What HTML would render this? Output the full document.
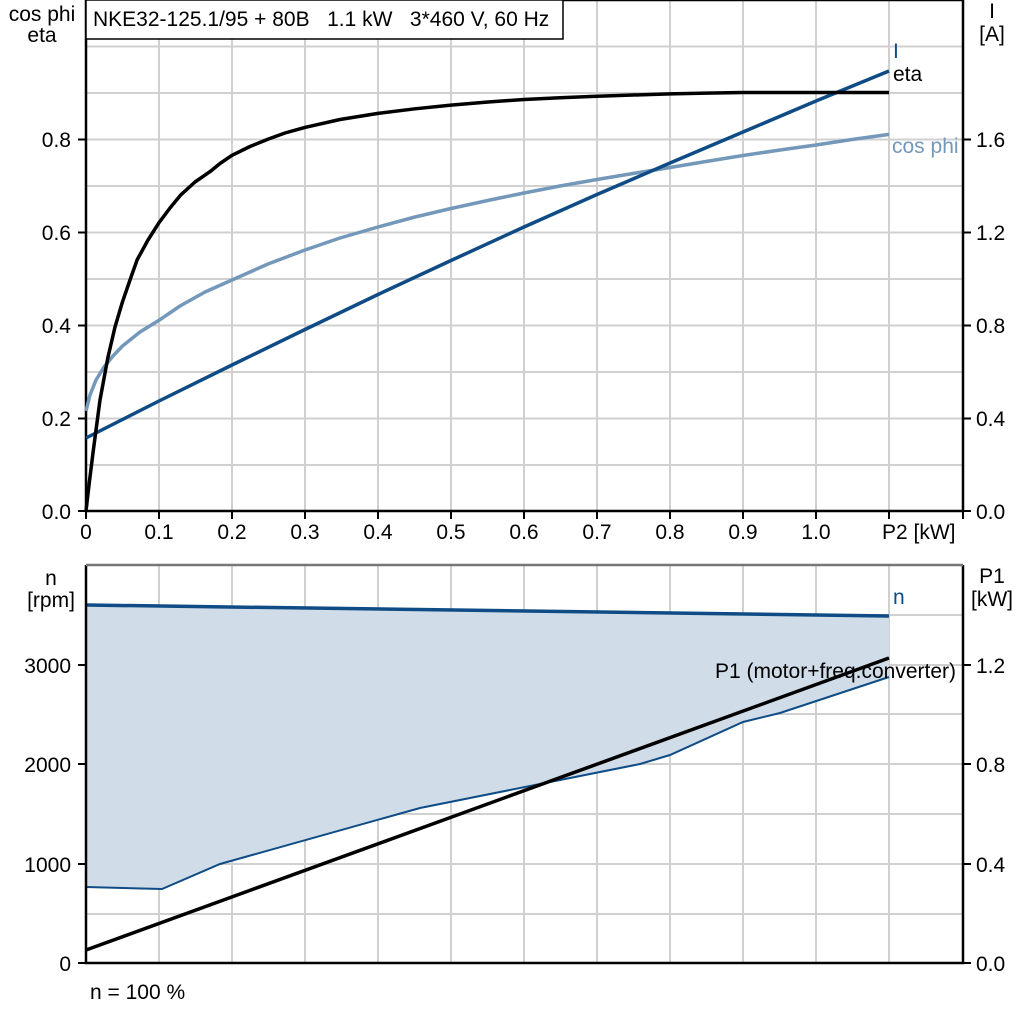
<!DOCTYPE html>
<html><head><meta charset="utf-8"><style>
body{margin:0;background:#fff}
svg{display:block;font-family:"Liberation Sans",sans-serif}
text{white-space:pre}
</style></head><body>
<svg width="1024" height="1024" viewBox="0 0 1024 1024">
<g stroke="#d0d0d0" stroke-width="2">
<path d="M159 0V511M232 0V511M305 0V511M378 0V511M451 0V511M524 0V511M597 0V511M670 0V511M743 0V511M816 0V511M889 0V511"/>
<path d="M86 46.5H963M86 93H963M86 139.5H963M86 186H963M86 232.5H963M86 279H963M86 325.5H963M86 372H963M86 418.5H963M86 465H963"/>
</g>
<g stroke="#d0d0d0" stroke-width="2">
<path d="M159 565V963M232 565V963M305 565V963M378 565V963M451 565V963M524 565V963M597 565V963M670 565V963M743 565V963M816 565V963M889 565V963"/>
<path d="M86 615H963M86 665H963M86 714H963M86 764H963M86 814H963M86 864H963M86 914H963"/>
</g>
<path d="M86 605L889 616L889 677L780 713L743 722L670 755L640 764L560 780L420 808L220 864L162 889L86 887Z" fill="#d0dce7"/>
<path d="M86 887L162 889L220 864L420 808L560 780L640 764L670 755L743 722L780 713L889 677" fill="none" stroke="#0f4c85" stroke-width="2"/>
<path d="M86 605L889 616" stroke="#0f4c85" stroke-width="3.5"/>
<path d="M86 950L889 658" stroke="#000" stroke-width="3.5"/>
<g stroke="#000" stroke-width="2.5" fill="none">
<path d="M86 0V511H963V0M86 0H963"/>
<path d="M86 565V963H963V565"/>
</g>
<path d="M86 565H963" stroke="#777" stroke-width="2.5"/>
<g stroke="#000" stroke-width="2">
<path d="M78 511H86M78 418.5H86M78 325.5H86M78 232.5H86M78 139.5H86"/>
<path d="M963 511H971M963 418.5H971M963 325.5H971M963 232.5H971M963 139.5H971"/>
<path d="M86 511V519M159 511V519M232 511V519M305 511V519M378 511V519M451 511V519M524 511V519M597 511V519M670 511V519M743 511V519M816 511V519M889 511V519M963 511V519"/>
<path d="M78 963H86M78 864H86M78 764H86M78 665H86"/>
<path d="M963 963H971M963 864H971M963 764H971M963 665H971"/>
</g>
<path d="M86 411L90 395L96 380L104 367L113 356L122.5 346L140 332L159 320.3L180 306L205 292L232 280L268 264L305 250L340 238L378 227L415 217L451 208.5L490 200L524 193L560 186L597 179.5L633 173.5L670 167.5L706 161.5L743 155.5L780 150L816 145L852 139.5L889 134.4" fill="none" stroke="#7498b9" stroke-width="3.5" stroke-linejoin="round"/>
<path d="M86 438L159 401L232 365L305 329.5L378 294.5L451 260.5L524 227L597 194.5L670 163L743 132L816 101L889 71" fill="none" stroke="#0f4c85" stroke-width="3.5" stroke-linejoin="round"/>
<path d="M86 511L89 485L93.3 450.5L100 400L107.9 357.5L115 327L122.5 301.8L130 280L137.1 259.9L148 240L159 222.7L170 208L180.9 194.8L195 182L210.1 171.6L220 163.5L232 155.3L250 146.5L268.5 139L285 133L305 127.4L340 119.5L378 113.4L415 108.8L451 105.1L488 102L524 99.5L560 97.7L597 96.2L633 95L670 93.9L706 93.1L743 92.5L889 92.5" fill="none" stroke="#000" stroke-width="3.5" stroke-linejoin="round"/>
<rect x="86" y="0" width="477" height="39" fill="#fff" stroke="#000" stroke-width="1.5"/>
<text x="93" y="26" font-size="21">NKE32-125.1/95 + 80B   1.1 kW   3*460 V, 60 Hz</text>
<g font-size="21" text-anchor="end">
<text x="71" y="519">0.0</text><text x="71" y="426">0.2</text><text x="71" y="333">0.4</text><text x="71" y="240">0.6</text><text x="71" y="147">0.8</text>
<text x="71" y="971">0</text><text x="71" y="872">1000</text><text x="71" y="772">2000</text><text x="71" y="673">3000</text>
</g>
<g font-size="21">
<text x="976" y="519">0.0</text><text x="976" y="426">0.4</text><text x="976" y="333">0.8</text><text x="976" y="240">1.2</text><text x="976" y="147">1.6</text>
<text x="976" y="971">0.0</text><text x="976" y="872">0.4</text><text x="976" y="772">0.8</text><text x="976" y="673">1.2</text>
</g>
<g font-size="21" text-anchor="middle">
<text x="86" y="539">0</text><text x="159" y="539">0.1</text><text x="232" y="539">0.2</text><text x="305" y="539">0.3</text><text x="378" y="539">0.4</text><text x="451" y="539">0.5</text><text x="524" y="539">0.6</text><text x="597" y="539">0.7</text><text x="670" y="539">0.8</text><text x="743" y="539">0.9</text><text x="816" y="539">1.0</text>
<text x="42" y="21">cos phi</text><text x="42" y="42">eta</text>
<text x="51" y="585">n</text><text x="51" y="607">[rpm]</text>
<text x="992" y="18">I</text><text x="992" y="41">[A]</text>
<text x="992" y="583">P1</text><text x="992" y="606">[kW]</text>
</g>
<text x="882" y="539" font-size="21">P2 [kW]</text>
<text x="893" y="58" font-size="21" fill="#0f4c85">I</text>
<text x="893" y="81" font-size="21">eta</text>
<text x="892" y="153" font-size="21" fill="#7498b9">cos phi</text>
<text x="893" y="604" font-size="21" fill="#0f4c85">n</text>
<text x="715" y="678" font-size="21">P1 (motor+freq.converter)</text>
<text x="90" y="999" font-size="21">n = 100 %</text>
</svg>
</body></html>
